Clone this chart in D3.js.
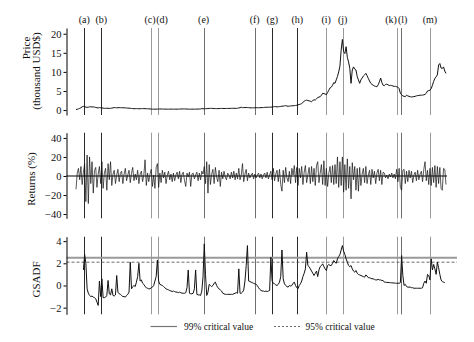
<!DOCTYPE html>
<html><head><meta charset="utf-8">
<script src="https://cdn.jsdelivr.net/npm/d3@7/dist/d3.min.js"></script>
<style>
html,body{margin:0;padding:0;background:#fff;}
svg{display:block;font-family:"Liberation Serif","Times New Roman",serif;}
</style></head><body>
<svg id="chart" width="474" height="342"></svg>
<script>
// ---- data (weekly index 0..300) ----
const eventLabels = ["(a)","(b)","(c)","(d)","(e)","(f)","(g)","(h)","(i)","(j)","(k)","(l)","(m)"];
const eventWeeks  = [6.7, 20.5, 60.6, 66.7, 103.5, 144.9, 159.2, 179.4, 202.9, 216.2, 260.0, 263.3, 287.0];
const eventTone   = ["dark","dark","light","light","mid","mid","dark","dark","light","light","light","mid","light"];

const price = [
0.15,0.2,0.3,0.45,0.6,0.85,0.95,0.9,0.75,0.7,
0.75,0.85,0.85,0.82,0.8,0.78,0.68,0.6,0.56,0.63,
0.6,0.58,0.5,0.45,0.44,0.48,0.45,0.44,0.45,0.5,
0.57,0.65,0.62,0.59,0.6,0.63,0.62,0.61,0.59,0.59,
0.58,0.52,0.51,0.48,0.47,0.41,0.4,0.33,0.37,0.39,
0.35,0.33,0.35,0.38,0.37,0.38,0.37,0.35,0.33,0.32,
0.28,0.27,0.21,0.25,0.23,0.23,0.24,0.26,0.28,0.28,
0.26,0.25,0.24,0.25,0.22,0.23,0.24,0.24,0.24,0.24,
0.23,0.23,0.23,0.24,0.25,0.28,0.29,0.28,0.29,0.28,
0.26,0.23,0.23,0.23,0.24,0.23,0.23,0.24,0.24,0.25,
0.27,0.29,0.37,0.33,0.32,0.36,0.36,0.39,0.43,0.45,
0.42,0.43,0.38,0.39,0.38,0.37,0.38,0.42,0.43,0.41,
0.41,0.41,0.41,0.42,0.42,0.43,0.45,0.45,0.45,0.45,
0.44,0.47,0.57,0.59,0.75,0.62,0.66,0.65,0.66,0.65,
0.62,0.59,0.57,0.58,0.58,0.6,0.61,0.61,0.6,0.61,
0.64,0.63,0.65,0.7,0.7,0.74,0.74,0.74,0.76,0.78,
0.85,0.9,0.88,0.83,0.87,0.9,0.95,1.0,1.02,1.1,
1.15,1.05,1.0,1.02,1.08,1.1,1.12,1.15,1.2,1.25,
1.35,1.45,1.55,1.7,2.0,2.3,2.5,2.6,2.5,2.4,
2.3,2.2,2.5,2.7,2.6,2.9,3.3,3.4,3.5,3.9,
4.4,4.3,4.2,4.0,4.6,5.2,5.8,6.0,6.5,7.2,
7.0,7.9,8.8,10.0,11.5,15.7,18.5,15.3,14.8,16.6,
13.8,12.6,10.9,7.0,10.5,11.3,10.7,10.5,8.8,7.9,
7.0,7.9,8.4,8.9,9.2,9.6,9.0,8.3,7.6,7.0,
6.7,6.5,6.3,6.2,6.1,6.6,7.4,8.4,7.2,6.5,
6.4,6.7,6.8,6.6,6.4,6.5,6.4,6.3,6.2,6.2,
6.1,6.0,5.6,4.4,4.0,3.7,3.6,3.5,3.9,3.7,
3.6,3.5,3.4,3.5,3.5,3.6,3.7,3.8,3.8,3.9,
3.9,3.9,4.0,4.1,4.4,5.0,5.1,5.2,5.6,6.5,
7.5,8.3,8.7,9.2,11.8,12.2,11.0,10.9,11.3,10.2,
9.6];

const returns = [
-14,3,8,-4,10,-9,4,13,-27,22,
-29,20,-8,15,-18,6,9,-12,2,10,
-8,15,-13,3,8,-15,13,-4,15,-10,
2,6,-8,1,7,-6,3,5,-8,2,
8,-5,1,6,-7,3,9,-5,2,-4,
6,-8,2,5,-6,1,17,-10,3,-6,
2,7,-11,1,-13,9,13,-12,3,-7,
6,-2,4,-8,1,5,-4,2,-6,3,
-5,1,4,-3,5,-7,2,4,-5,-11,
3,-1,4,-11,2,3,-3,1,4,-5,
3,-4,5,2,10,-8,15,-18,12,-9,
2,7,-8,9,-1,-6,6,-11,4,-3,
5,-1,-4,3,1,-3,4,-2,5,-4,
3,-3,8,-4,1,13,-6,2,7,-5,
3,-2,1,3,-3,2,-2,1,3,-2,
2,-3,1,3,-2,4,-3,1,5,-4,
8,-5,2,6,-6,7,-9,-16,6,-7,
9,-2,-6,5,-8,8,1,11,-7,9,
-10,8,-2,10,-9,4,11,-7,1,9,
-8,10,-6,8,-10,11,15,-7,3,12,
-9,16,-10,8,-11,3,10,-7,11,-9,
12,-8,20,-12,15,-10,20,-17,12,-15,
18,-13,10,-24,14,-4,10,-15,8,-16,
9,-10,2,8,-7,10,-8,1,6,-9,
7,-2,5,-8,3,7,-5,6,-9,4,
3,-2,1,-3,2,-1,3,-2,2,-3,
7,-6,8,-12,-15,6,7,-8,5,-6,
6,-2,5,-7,1,4,-5,6,-4,2,
5,-6,7,15,-5,6,-9,8,-10,9,
-7,11,-12,10,-8,9,-13,-15,8,7,
-9];

const gsadf = [
null,null,null,null,null,null,1.4,2.8,2.0,-0.3,
-0.7,-0.9,-1.0,-0.95,-1.05,-1.1,-1.2,-1.5,-1.8,0.4,
-1.0,0.6,-1.1,-1.1,-1.05,-0.9,0.45,-0.75,-0.85,-0.3,
-0.9,-0.95,-0.85,0.9,-0.6,-0.75,-0.8,-0.9,-1.0,-1.0,
-1.05,-0.9,-0.8,-0.6,2.1,-0.3,-0.1,0.0,-0.1,0.3,
0.8,2.0,0.4,0.5,0.2,0.1,-0.1,-0.2,-0.25,-0.3,
-0.3,-0.2,-0.15,0.0,0.4,0.8,2.3,0.4,0.1,0.05,
0.0,-0.1,-0.2,-0.3,-0.35,-0.4,-0.45,-0.5,-0.55,-0.5,
-0.55,-0.6,-0.6,-0.65,-0.6,-0.65,-0.7,-0.7,-0.7,-0.65,
-0.2,1.4,-0.7,-0.75,-0.75,-0.7,-0.3,1.4,-0.8,-0.85,
-0.85,-0.9,-0.5,0.8,3.75,1.0,-0.9,-0.6,0.1,0.0,
-0.1,0.0,0.2,0.3,0.0,-0.2,-0.3,-0.4,-0.5,-0.7,
-0.75,-0.8,-0.8,-0.8,-0.8,-0.8,-0.8,-0.8,-0.75,-0.7,
-0.65,-0.7,1.5,-0.7,-0.7,-0.6,-0.4,0.4,1.8,3.6,
0.4,0.35,0.3,0.25,0.2,0.15,0.1,0.0,-0.2,-0.35,
-0.45,-0.5,-0.5,-0.55,-0.5,-0.55,-0.5,-0.45,2.55,0.4,
0.2,0.15,0.05,0.0,0.1,0.3,0.8,3.2,0.6,0.15,
0.0,-0.1,-0.15,0.0,-0.05,0.0,0.2,0.3,0.0,-0.2,
-0.3,0.0,0.15,0.4,0.8,1.1,1.5,3.0,1.8,1.7,
1.5,1.3,1.1,0.9,1.1,1.3,0.8,1.4,1.7,1.8,
1.95,1.7,1.5,1.35,1.8,1.9,1.8,1.8,2.0,2.25,
2.1,2.0,2.4,2.6,2.8,3.2,3.6,3.1,2.8,2.4,
2.1,1.8,1.7,1.8,1.5,1.3,1.2,1.35,1.1,1.0,
0.95,0.9,0.85,0.8,0.75,0.95,0.85,0.7,0.7,0.65,
0.6,0.6,0.55,0.5,0.5,0.55,0.5,0.5,0.45,0.45,
0.3,0.29,0.28,0.27,0.26,0.25,0.24,0.23,0.22,0.21,
0.2,0.2,0.2,0.25,2.7,0.9,0.0,0.1,-0.1,-0.15,
-0.15,-0.15,-0.2,-0.2,-0.25,-0.25,-0.25,-0.25,-0.25,-0.25,
-0.25,-0.2,0.2,0.4,0.2,1.0,0.9,0.5,2.4,1.4,
1.9,1.5,1.0,2.1,1.6,1.0,0.5,0.35,0.3,0.25,
null];

const cv99 = 2.5, cv95 = 2.1;
const priceTicks = [0,5,10,15,20];
const returnTicks = [-40,-20,0,20,40];
const gsadfTicks = [-2,0,2,4];

// ---- drawing ----
const svg = d3.select("#chart");
const x = d3.scaleLinear().domain([0, 300]).range([76, 446]);
const axisX = 66.5;

const panels = [
  {key:"price", data: price, domain:[-1.3,21.5], range:[115,28], ticks: priceTicks},
  {key:"returns", data: returns, domain:[-44.5,45.5], range:[218.3,132.7], ticks: returnTicks},
  {key:"gsadf", data: gsadf, domain:[-2.6,4.4], range:[314.3,236.7], ticks: gsadfTicks}
];
panels.forEach(p => { p.y = d3.scaleLinear().domain(p.domain).range(p.range); });

const toneColor = {dark:"#2a2a2a", mid:"#6e6e6e", light:"#9a9a9a"};
const labelShift = {"(c)": -0.8, "(d)": 3.8, "(k)": -5.6, "(l)": 2};

// event lines
panels.forEach(p => {
  svg.append("g").selectAll("line").data(eventWeeks).join("line")
    .attr("x1", d => Math.round(x(d)) + 0.5).attr("x2", d => Math.round(x(d)) + 0.5)
    .attr("y1", p.range[1]).attr("y2", p.range[0])
    .attr("stroke", (d,i) => toneColor[eventTone[i]]).attr("stroke-width", 1);
});

// event labels
svg.append("g").selectAll("text").data(eventLabels).join("text")
  .attr("x", (d,i) => x(eventWeeks[i]) + (labelShift[d] || 0))
  .attr("y", 23).attr("text-anchor","middle")
  .attr("font-size", 10).attr("fill","#111").text(d => d);

// critical values on GSADF panel
const gp = panels[2];
svg.append("line").attr("x1", axisX).attr("x2", 457)
  .attr("y1", gp.y(cv99)).attr("y2", gp.y(cv99))
  .attr("stroke","#9a9a9a").attr("stroke-width",2);
svg.append("line").attr("x1", axisX).attr("x2", 457)
  .attr("y1", gp.y(cv95)).attr("y2", gp.y(cv95))
  .attr("stroke","#444").attr("stroke-width",0.8).attr("stroke-dasharray","3,2");

// returns zero line
const rp = panels[1];
svg.append("line").attr("x1", axisX).attr("x2", 447)
  .attr("y1", rp.y(0)).attr("y2", rp.y(0))
  .attr("stroke","#000").attr("stroke-width",1.2);

// series
panels.forEach(p => {
  const pts = p.data.map((v,i) => [i, v]).filter(d => d[1] !== null);
  const line = d3.line().x(d => x(d[0])).y(d => p.y(d[1]));
  svg.append("path").attr("d", line(pts)).attr("fill","none")
    .attr("stroke","#111").attr("stroke-width", p.key === "returns" ? 0.7 : 1)
    .attr("stroke-linejoin","round");
});

// axes
panels.forEach(p => {
  const g = svg.append("g").attr("transform", `translate(${axisX},0)`)
    .call(d3.axisLeft(p.y).tickValues(p.ticks).tickSize(3).tickPadding(2).tickSizeOuter(0).tickFormat(d3.format("d")));
  g.select(".domain").attr("stroke","#000");
  g.selectAll(".tick line").attr("stroke","#000");
  g.selectAll(".tick text").attr("font-size",10.5).attr("font-family",'"Liberation Serif","Times New Roman",serif').attr("fill","#111");
});

// axis titles
function vtitle(txt, bx, cy) {
  svg.append("text").attr("transform", `translate(${bx},${cy}) rotate(-90)`)
    .attr("text-anchor","middle").attr("font-size",11).attr("fill","#111").text(txt);
}
vtitle("Price", 30, 48);
vtitle("(thousand USD$)", 39.5, 71);
vtitle("Returns (%)", 35, 179);
vtitle("GSADF", 40, 279.5);

// legend
const lg = svg.append("g");
lg.append("line").attr("x1",150.5).attr("x2",177).attr("y1",326.5).attr("y2",326.5)
  .attr("stroke","#777").attr("stroke-width",1.2);
lg.append("text").attr("x",184).attr("y",329.5).attr("font-size",9.5).attr("fill","#111").text("99% critical value");
lg.append("line").attr("x1",274).attr("x2",301).attr("y1",326.5).attr("y2",326.5)
  .attr("stroke","#444").attr("stroke-width",0.8).attr("stroke-dasharray","2,2");
lg.append("text").attr("x",305.5).attr("y",329.5).attr("font-size",9.5).attr("fill","#111").text("95% critical value");
</script>
</body></html>
